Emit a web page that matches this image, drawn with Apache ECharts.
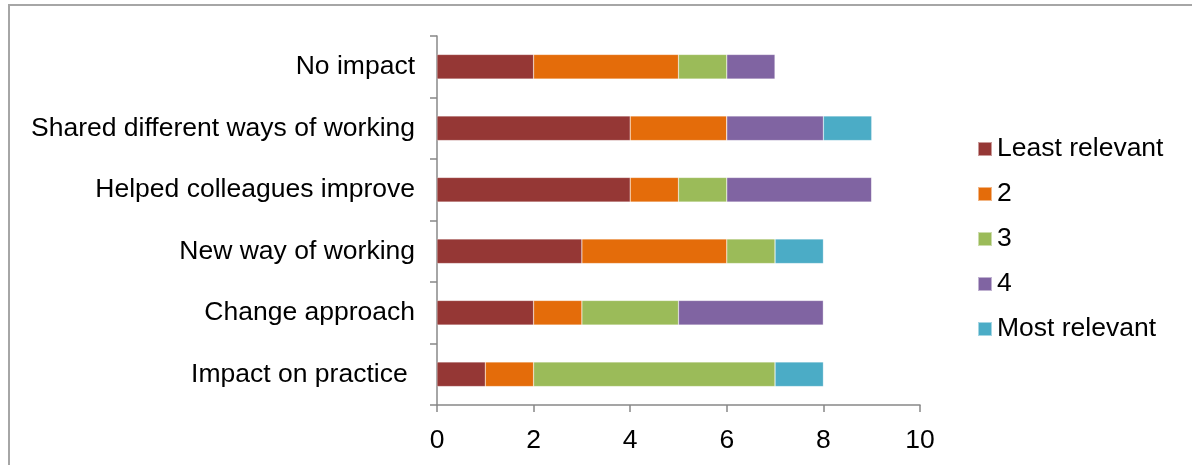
<!DOCTYPE html>
<html>
<head>
<meta charset="utf-8">
<script src="https://cdn.jsdelivr.net/npm/echarts@6/dist/echarts.min.js"></script>
<style>
  html, body { margin: 0; padding: 0; background: #fff; overflow: hidden; }
  #frame { position: absolute; left: 8px; top: 4px; width: 1300px; height: 600px; border: 2px solid #a6a6a6; box-sizing: border-box; }
  #chart { position: absolute; left: 0; top: 0; width: 1192px; height: 465px; }
</style>
</head>
<body>
<div id="frame"></div>
<div id="chart"></div>
<script>
// categories bottom -> top (category axis draws first item at the bottom)
var categories = ['Impact on practice ', 'Change approach', 'New way of working', 'Helped colleagues improve', 'Shared different ways of working', 'No impact']
var seriesNames = ['Least relevant', '2', '3', '4', 'Most relevant']
var leastRelevant = [1, 2, 3, 4, 4, 2]
var rank2 = [1, 1, 3, 1, 2, 3]
var rank3 = [5, 2, 1, 1, 0, 1]
var rank4 = [0, 3, 0, 3, 2, 1]
var mostRelevant = [1, 0, 1, 0, 1, 0]
var xTicks = [0, 2, 4, 6, 8, 10]
var colors = ['#953735', '#e46c0a', '#9bbb59', '#8064a2', '#4bacc6']

var values = [leastRelevant, rank2, rank3, rank4, mostRelevant]
var font = 'Liberation Sans, Arial, sans-serif'
var fontSize = 26.5

var series = []
for (var i = 0; i < seriesNames.length; i++) {
  series.push({
    name: seriesNames[i],
    type: 'bar',
    stack: 'total',
    barWidth: '40%',
    data: values[i],
    itemStyle: { color: colors[i], borderColor: 'rgba(255,255,255,0.5)', borderWidth: 0.5 }
  })
}

var myChart = echarts.init(document.getElementById('chart'))
myChart.setOption({
  animation: false,
  color: colors,
  grid: { left: 437, right: 272, top: 36, bottom: 60, containLabel: false },
  legend: {
    orient: 'vertical',
    left: 972,
    top: 129,
    itemWidth: 14,
    itemHeight: 14,
    itemGap: 15,
    icon: 'rect',
    data: seriesNames,
    textStyle: { fontFamily: font, fontSize: fontSize, color: '#000', lineHeight: 30 }
  },
  xAxis: {
    type: 'value',
    min: xTicks[0],
    max: xTicks[xTicks.length - 1],
    interval: 2,
    axisLine: { show: true, lineStyle: { color: '#888', width: 1.5 } },
    axisTick: { show: true, length: 7, lineStyle: { color: '#888', width: 1.5 } },
    splitLine: { show: false },
    axisLabel: { margin: 22, fontFamily: font, fontSize: fontSize, color: '#000' }
  },
  yAxis: {
    type: 'category',
    data: categories,
    axisLine: { show: true, lineStyle: { color: '#888', width: 1.5 } },
    axisTick: { show: true, length: 7, lineStyle: { color: '#888', width: 1.5 } },
    axisLabel: { margin: 22, fontFamily: font, fontSize: fontSize, color: '#000' }
  },
  series: series
})
</script>
</body>
</html>
